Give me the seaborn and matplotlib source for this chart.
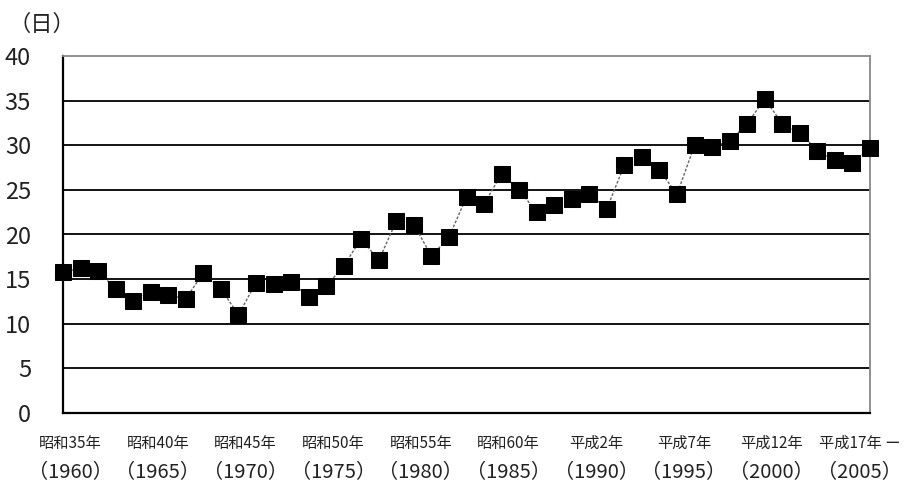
import matplotlib
matplotlib.use("Agg")
import matplotlib.pyplot as plt
import matplotlib.transforms as mtransforms
import seaborn as sns
import pandas as pd

# Annual number of days, 1960-2006
years = list(range(1960, 2007))
days = [15.8, 16.2, 15.9, 13.9, 12.5, 13.6, 13.2, 12.8, 15.7, 13.9,
        11.0, 14.6, 14.5, 14.7, 13.0, 14.2, 16.5, 19.5, 17.1, 21.5,
        21.1, 17.6, 19.7, 24.2, 23.4, 26.8, 25.0, 22.5, 23.3, 24.0,
        24.5, 22.9, 27.8, 28.7, 27.2, 24.5, 30.0, 29.8, 30.5, 32.4,
        35.2, 32.4, 31.4, 29.4, 28.3, 28.0, 29.7]

# Axis labels
tick_years = [1960, 1965, 1970, 1975, 1980, 1985, 1990, 1995, 2000, 2005]
era_labels = ["昭和35年", "昭和40年", "昭和45年", "昭和50年", "昭和55年",
              "昭和60年", "平成2年", "平成7年", "平成12年", "平成17年 ー"]
y_ticks = [0, 5, 10, 15, 20, 25, 30, 35, 40]
unit_label = "（日）"

sns.set_style("white")
plt.rcParams["font.family"] = ["Noto Sans CJK JP", "DejaVu Sans"]

df = pd.DataFrame({"year": years, "days": days})

fig = plt.figure(figsize=(9.18, 4.90), dpi=100)
ax = fig.add_axes([63 / 918, 1 - 413 / 490, (870 - 63) / 918, (413 - 56) / 490])

sns.lineplot(data=df, x="year", y="days", ax=ax, color="#666666",
             linewidth=1.0, linestyle=(0, (2, 1.2)),
             marker="s", markersize=11, markerfacecolor="black",
             markeredgecolor="black", clip_on=False, zorder=3)

ax.set_xlim(1960, 2006)
ax.set_ylim(0, 40)
ax.set_xlabel("")
ax.set_ylabel("")

# horizontal grid lines
for v in y_ticks[1:-1]:
    ax.axhline(v, color="black", linewidth=1.3, zorder=1)

ax.set_yticks(y_ticks)
ax.set_yticklabels([str(v) for v in y_ticks], fontsize=17, color="#222222")
ax.tick_params(axis="y", length=0, pad=23)

ax.set_xticks(tick_years)
ax.set_xticklabels(era_labels, fontsize=11, color="#222222")
ax.tick_params(axis="x", direction="in", length=8, width=1.2, color="black",
               pad=16)
offset = mtransforms.ScaledTranslation(7 / 100, 0, fig.dpi_scale_trans)
for lbl in ax.get_xticklabels():
    lbl.set_transform(lbl.get_transform() + offset)

# western-year row under the era labels
xform = ax.get_xaxis_transform()
for yr in tick_years:
    ax.text(yr, -60 / 357, f"（{yr}）", transform=xform + offset,
            ha="center", va="center", fontsize=14.5, color="#222222")

for side in ("left", "bottom"):
    ax.spines[side].set_color("black")
    ax.spines[side].set_linewidth(1.6)
for side in ("top", "right"):
    ax.spines[side].set_visible(True)
    ax.spines[side].set_color("#888888")
    ax.spines[side].set_linewidth(1.3)

fig.text(8 / 918, 1 - 24 / 490, unit_label, fontsize=16, ha="left",
         va="center", color="#222222")

fig.savefig("out.png", dpi=100)
